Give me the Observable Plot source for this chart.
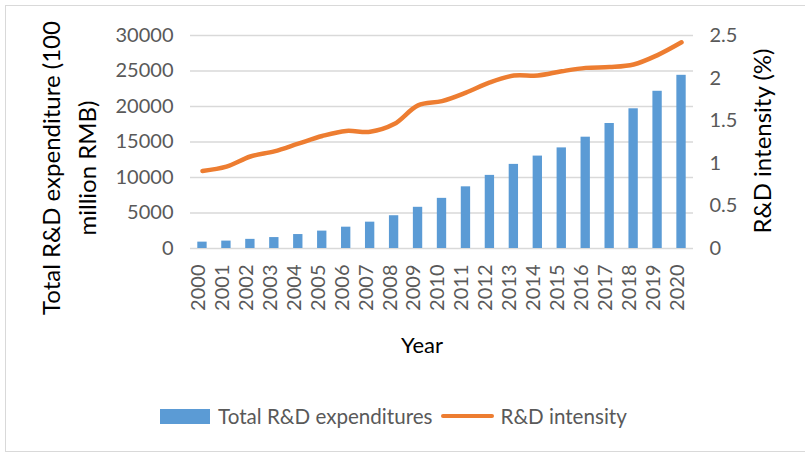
<!DOCTYPE html>
<html>
<head>
<meta charset="utf-8">
<script src="https://cdn.jsdelivr.net/npm/d3@7"></script>
<script src="https://cdn.jsdelivr.net/npm/@observablehq/plot@0.6"></script>
<style>
  html, body { margin: 0; padding: 0; background: #fff; }
  #chart { position: relative; width: 805px; height: 454px; overflow: hidden; font-family: Lato, "Open Sans", sans-serif; }
  #border { position: absolute; left: 5px; top: 5px; width: 830px; height: 447px; border: 1px solid #d9d9d9; box-sizing: border-box; }
  #plot { position: absolute; left: 0; top: 0; }
  #legend { position: absolute; left: 160px; top: 404px; display: flex; align-items: center; color: #595959; font-size: 20.6px; white-space: nowrap; }
  #legend .bar { width: 50px; height: 15px; background: #5B9BD5; margin-right: 8px; }
  #legend .line { width: 53px; height: 4px; border-radius: 2px; background: #ED7D31; margin: 0 7px 0 8px; }
</style>
</head>
<body>
<div id="chart">
  <div id="border"></div>
  <div id="plot"></div>
  <div id="legend">
    <span class="bar"></span><span>Total R&amp;D expenditures</span>
    <span class="line"></span><span>R&amp;D intensity</span>
  </div>
</div>
<script>
// Years on the category axis
const years = ["2000", "2001", "2002", "2003", "2004", "2005", "2006", "2007", "2008", "2009", "2010",
               "2011", "2012", "2013", "2014", "2015", "2016", "2017", "2018", "2019", "2020"];
// Total R&D expenditure, 100 million RMB (left axis)
const expenditure = [896, 1043, 1288, 1540, 1966, 2450, 3003, 3710, 4616, 5802, 7063,
                     8687, 10298, 11847, 13016, 14170, 15677, 17606, 19678, 22144, 24393];
// R&D intensity, % of GDP (right axis)
const intensity = [0.91, 0.96, 1.08, 1.14, 1.23, 1.32, 1.38, 1.37, 1.46, 1.68, 1.73,
                   1.83, 1.95, 2.03, 2.03, 2.08, 2.12, 2.13, 2.16, 2.27, 2.42];
// Tick values for both value axes
const leftTicks = [0, 5000, 10000, 15000, 20000, 25000, 30000];
const rightTicks = [0, 0.5, 1, 1.5, 2, 2.5];

// The right axis (0–2.5) is drawn on the left scale (0–30000)
const ratio = 30000 / 2.5;

const rows = years.map((year, i) => ({year, expenditure: expenditure[i], intensity: intensity[i]}));

const W = 805, H = 395, frameTop = 35, frameBottom = 248, frameLeft = 190, frameRight = 693;

const chart = Plot.plot({
  width: W,
  height: H,
  marginTop: frameTop,
  marginBottom: H - frameBottom,
  marginLeft: frameLeft,
  marginRight: W - frameRight,
  style: {fontFamily: "Lato, 'Open Sans', sans-serif", fontSize: "20px", color: "#595959", background: "transparent", overflow: "visible"},
  x: {type: "band", domain: years, paddingInner: 0.61, paddingOuter: 0.305, round: false},
  y: {domain: [0, 30000]},
  marks: [
    Plot.gridY(leftTicks, {stroke: "#d9d9d9", strokeOpacity: 1, strokeWidth: 1.3}),
    Plot.barY(rows, {x: "year", y: "expenditure", fill: "#5B9BD5"}),
    Plot.lineY(rows, {x: "year", y: d => d.intensity * ratio, stroke: "#ED7D31", strokeWidth: 4.5,
                      curve: "catmull-rom", strokeLinecap: "round", strokeLinejoin: "round"}),
    Plot.axisY(leftTicks, {anchor: "left", tickSize: 0, tickPadding: 17, label: null, fill: "#595959",
               tickFormat: v => String(v)}),
    Plot.axisY(rightTicks.map(v => v * ratio), {anchor: "right", tickSize: 0, tickPadding: 16, label: null,
               fill: "#595959", tickFormat: v => String(v / ratio)}),
    Plot.axisX({tickRotate: -90, tickSize: 0, tickPadding: 16, label: null, fill: "#595959", dx: -4}),
    Plot.text(["Year"], {frameAnchor: "bottom", lineAnchor: "bottom", dx: -20, dy: 104, fontSize: 22, fill: "#000"}),
    Plot.text(["Total R&D expenditure (100\nmillion RMB)"], {frameAnchor: "left", textAnchor: "middle", lineAnchor: "middle",
               rotate: -90, dx: -124, dy: 26, fontSize: 24, lineHeight: 1.5, fill: "#000"}),
    Plot.text(["R&D intensity (%)"], {frameAnchor: "right", textAnchor: "middle", lineAnchor: "middle",
               rotate: -90, dx: 70, dy: -1, fontSize: 24, fill: "#000"})
  ]
});

document.getElementById("plot").appendChild(chart);
</script>
</body>
</html>
